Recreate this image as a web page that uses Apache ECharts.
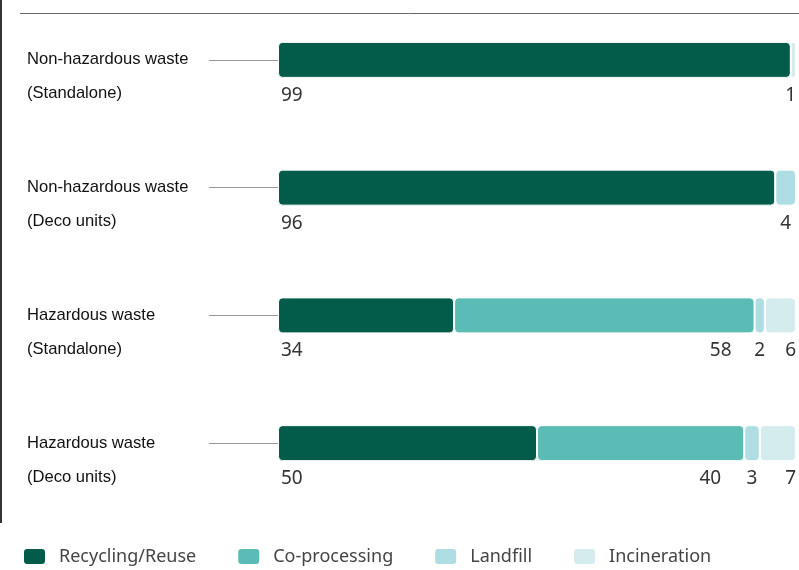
<!DOCTYPE html>
<html>
<head>
<meta charset="utf-8">
<script src="https://cdn.jsdelivr.net/npm/echarts@6/dist/echarts.min.js"></script>
<style>
html,body{margin:0;padding:0;background:#fff;overflow:hidden;}
#waste_chart{position:absolute;left:0;top:-4px;width:799px;height:574px;}
</style>
</head>
<body>
<div id="waste_chart"></div>
<script>
var categories = ['Non-hazardous waste\n(Standalone)', 'Non-hazardous waste\n(Deco units)', 'Hazardous waste\n(Standalone)', 'Hazardous waste\n(Deco units)'];
var recycling = [99, 96, 34, 50];
var coprocessing = [0, 0, 58, 40];
var landfill = [0, 4, 2, 3];
var incineration = [1, 0, 6, 7];
var seriesNames = ['Recycling/Reuse', 'Co-processing', 'Landfill', 'Incineration'];
var colors = ['#035c4a', '#5bbcb6', '#aedde3', '#d5ecee'];

// chart div sits 4px above the page, so y values below are page y + 4
var myChart = echarts.init(document.getElementById("waste_chart"));

function hideZero(p){
	return p.value === 0 ? '' : p.value;
}
function makeLabel(pos, align, offset){
	return {
		show : true,
		position : pos,
		align : align,
		verticalAlign : 'top',
		offset : offset,
		color : '#333',
		fontSize : 19,
		fontFamily : 'Noto Sans',
		formatter : hideZero
	};
}

var labels = [
	makeLabel([3, 44], 'left', [0, 0]),
	makeLabel(['100%', 44], 'right', [-23, 0]),
	makeLabel(['50%', 44], 'center', [0, 0]),
	makeLabel(['100%', 44], 'right', [0, 0])
];
var dataSets = [recycling, coprocessing, landfill, incineration];

var series = [];
for(var i=0;i<dataSets.length;i++){
	series.push({
		name : seriesNames[i],
		type : 'bar',
		stack : 'total',
		barWidth : 36,
		itemStyle : {
			color : colors[i],
			borderColor : '#fff',
			borderWidth : 1,
			borderRadius : 4
		},
		label : labels[i],
		data : dataSets[i]
	});
}

var option = {
	animation : false,
	color : colors,
	grid : {
		left : 278,
		right : 3,
		top : 0,
		bottom : 63
	},
	legend : {
		left : 17,
		top : 546,
		itemWidth : 23,
		itemHeight : 17,
		itemGap : 40,
		icon : 'roundRect',
		textStyle : {
			color : '#444',
			fontSize : 18,
			fontFamily : 'Noto Sans',
			padding : [0, 0, 0, 8]
		},
		data : seriesNames
	},
	xAxis : {
		type : 'value',
		min : 0,
		max : 100,
		show : false
	},
	yAxis : {
		type : 'category',
		inverse : true,
		data : categories,
		axisLine : {show : false},
		axisTick : {
			show : true,
			alignWithLabel : true,
			length : 69,
			lineStyle : {color : '#999', width : 1}
		},
		axisLabel : {
			align : 'left',
			margin : 251,
			color : '#111',
			fontSize : 16.6,
			fontFamily : 'Liberation Sans',
			lineHeight : 34,
			// blank first line so the first text line sits on the tick
			formatter : function(v){ return '\n' + v; }
		}
	},
	graphic : [
		{
			type : 'line',
			shape : {x1 : 20, y1 : 17.5, x2 : 799, y2 : 17.5},
			style : {stroke : '#666', lineWidth : 1}
		},
		{
			type : 'line',
			shape : {x1 : 1, y1 : 0, x2 : 1, y2 : 527},
			style : {stroke : '#333', lineWidth : 2}
		}
	],
	series : series
};
myChart.setOption(option);
</script>
</body>
</html>
